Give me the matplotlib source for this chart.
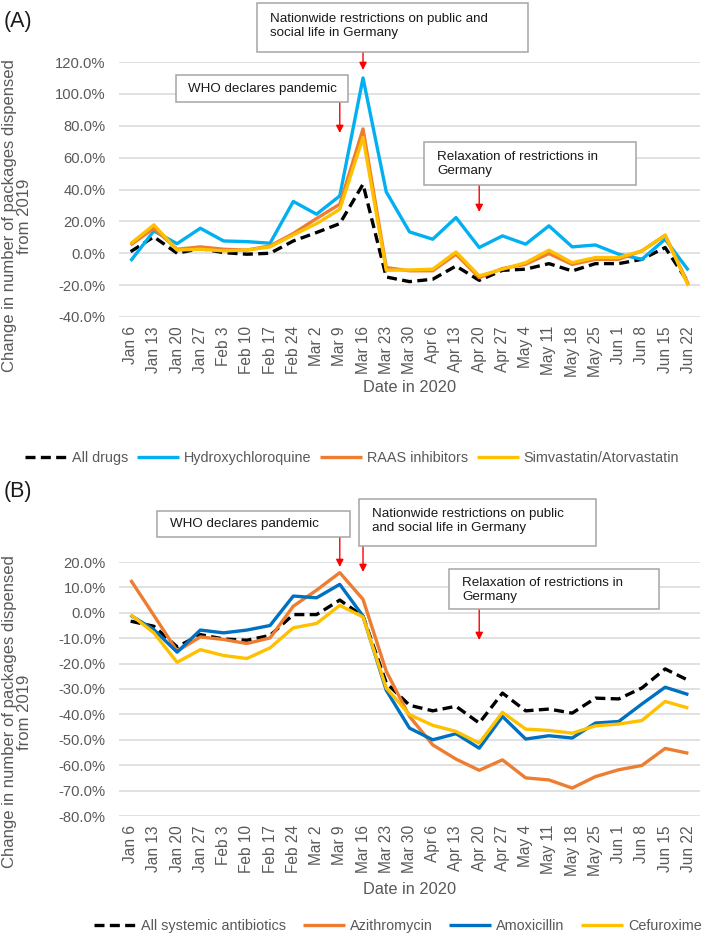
import matplotlib
matplotlib.use("Agg")
import matplotlib.pyplot as plt
from matplotlib.patches import Rectangle
from matplotlib.ticker import FuncFormatter

plt.rcParams['font.family'] = ['Liberation Sans', 'DejaVu Sans']

dates = ["Jan 6", "Jan 13", "Jan 20", "Jan 27", "Feb 3", "Feb 10", "Feb 17", "Feb 24",
         "Mar 2", "Mar 9", "Mar 16", "Mar 23", "Mar 30", "Apr 6", "Apr 13", "Apr 20",
         "Apr 27", "May 4", "May 11", "May 18", "May 25", "Jun 1", "Jun 8", "Jun 15", "Jun 22"]

# Panel A (percent)
all_drugs = [1.0, 10.3, 0.0, 3.0, 0.4, -0.6, 0.0, 7.7, 13.0, 18.6, 43.3, -14.9, -17.8,
             -16.3, -8.0, -17.0, -10.7, -10.0, -6.5, -11.1, -6.5, -6.5, -3.8, 3.6, -18.4]
hydroxychloroquine = [-4.8, 14.0, 6.0, 15.7, 7.7, 7.3, 6.3, 32.5, 24.5, 36.0, 110.0, 38.5, 13.4,
                      8.8, 22.4, 3.6, 10.9, 5.7, 17.2, 4.0, 5.2, -0.6, -3.8, 8.8, -10.7]
raas = [5.2, 15.7, 2.5, 4.0, 2.5, 2.0, 4.6, 12.4, 21.8, 30.8, 78.0, -9.0, -11.0,
        -11.0, -0.6, -15.3, -9.6, -6.9, -0.2, -7.0, -3.8, -3.8, 1.5, 11.3, -19.5]
statins = [6.0, 17.8, 2.0, 2.5, 1.5, 2.0, 4.0, 11.5, 18.6, 27.6, 72.7, -10.7, -10.5,
           -10.0, 0.8, -14.2, -10.0, -5.9, 1.9, -5.9, -2.7, -2.7, 1.5, 11.3, -20.5]

# Panel B (percent)
all_antibiotics = [-3.3, -5.3, -13.4, -8.6, -10.3, -10.8, -8.9, -0.7, -0.7, 5.0, -1.3, -27.6, -36.4,
                   -38.6, -36.8, -43.4, -31.6, -38.6, -37.9, -39.5, -33.6, -33.9, -29.6, -22.1, -26.6]
azithromycin = [12.9, -1.0, -15.1, -9.5, -10.5, -12.1, -9.9, 2.6, 8.9, 15.8, 5.3, -23.0, -40.8,
                -52.0, -57.6, -62.0, -57.9, -65.0, -65.8, -69.0, -64.5, -61.8, -60.1, -53.4, -55.3]
amoxicillin = [-1.0, -6.6, -15.5, -6.8, -7.9, -6.8, -5.0, 6.6, 5.9, 11.2, -1.3, -30.5, -45.4,
               -50.0, -47.6, -53.3, -40.8, -49.7, -48.4, -49.3, -43.4, -42.8, -35.9, -29.3, -32.2]
cefuroxime = [-0.7, -7.9, -19.5, -14.5, -16.8, -18.0, -13.8, -5.9, -4.2, 2.9, -1.6, -29.6, -40.1,
              -44.3, -46.7, -51.3, -39.2, -45.8, -46.3, -47.4, -44.5, -43.8, -42.4, -34.9, -37.5]

labels_A = ["All drugs", "Hydroxychloroquine", "RAAS inhibitors", "Simvastatin/Atorvastatin"]
labels_B = ["All systemic antibiotics", "Azithromycin", "Amoxicillin", "Cefuroxime"]

W, H = 709, 936
fig = plt.figure(figsize=(W / 100, H / 100), dpi=100)

def fx(px):
    return px / W

def fy(py):
    return 1 - py / H

GRAY = "#595959"
GRID = "#D9D9D9"

def make_axes(top, bottom):
    ax = fig.add_axes([fx(119), fy(bottom), fx(700) - fx(119), fy(top) - fy(bottom)])
    for s in ax.spines.values():
        s.set_visible(False)
    ax.yaxis.grid(True, color=GRID, lw=1.1)
    ax.set_axisbelow(True)
    ax.tick_params(length=0, colors=GRAY)
    ax.tick_params(axis='y', pad=9.5, labelsize=10.6)
    ax.tick_params(axis='x', pad=6.5, labelsize=11.2)
    ax.set_xlim(-0.5, len(dates) - 0.5)
    ax.set_xticks(range(len(dates)))
    ax.set_xticklabels(dates, rotation=90)
    ax.yaxis.set_major_formatter(FuncFormatter(lambda v, p: f"{v:.1f}%"))
    return ax

x = list(range(len(dates)))

def draw(ax, series, colors, labels):
    lines = []
    for i, (s, c, lab) in enumerate(zip(series, colors, labels)):
        if i == 0:
            ln, = ax.plot(x, s, color=c, lw=2.4, label=lab, dashes=(3, 1.6),
                          solid_joinstyle='round', zorder=3)
        else:
            ln, = ax.plot(x, s, color=c, lw=2.4, label=lab, solid_joinstyle='round',
                          solid_capstyle='butt', zorder=3 + i)
        lines.append(ln)
    return lines

def box(x0, y0, x1, y1, text, tx, ty):
    r = Rectangle((fx(x0), fy(y1)), fx(x1) - fx(x0), fy(y0) - fy(y1),
                  transform=fig.transFigure, facecolor="white", edgecolor="#A6A6A6",
                  lw=1.1, zorder=10)
    fig.add_artist(r)
    fig.text(fx(tx), fy(ty), text, ha="left", va="center", fontsize=9.6,
             color="#1a1a1a", linespacing=1.15, zorder=11)

def arrow(ax, idx, y0, y1):
    ax.annotate("", xy=(idx, y1), xytext=(idx, y0), xycoords='data',
                annotation_clip=False,
                arrowprops=dict(arrowstyle='-|>', color='#FF0000', lw=1.0,
                                mutation_scale=11, shrinkA=0, shrinkB=0), zorder=12)

# ---------- Panel A ----------
axA = make_axes(62, 317)
axA.set_ylim(-40, 120)
axA.set_yticks(range(-40, 121, 20))
linesA = draw(axA, [all_drugs, hydroxychloroquine, raas, statins],
              ["black", "#00B0F0", "#ED7D31", "#FFC000"], labels_A)

def ya(px):
    return 120 - (px - 62) / 255 * 160

box(257, 3, 528, 52, "Nationwide restrictions on public and\nsocial life in Germany", 270, 26)
box(176, 75, 348, 102, "WHO declares pandemic", 188, 89)
box(424, 142, 636, 185, "Relaxation of restrictions in\nGermany", 437, 164)
arrow(axA, 9, ya(102), ya(133))
arrow(axA, 10, ya(52), ya(70))
arrow(axA, 15, ya(185), ya(212))

fig.text(fx(410), fy(387), "Date in 2020", ha="center", va="center", fontsize=11.8, color=GRAY)
fig.text(fx(17), fy(216), "Change in number of packages dispensed\nfrom 2019", ha="center",
         va="center", rotation=90, fontsize=12.0, color=GRAY, linespacing=1.0)
fig.text(fx(4), fy(21), "(A)", ha="left", va="center", fontsize=15.5, color="#1a1a1a")

fig.legend(handles=linesA, labels=labels_A, loc="center", ncol=4,
           bbox_to_anchor=(fx(352), fy(458)), frameon=False, fontsize=10.4,
           handlelength=2.9, handletextpad=0.35, columnspacing=0.6, labelcolor=GRAY)

# ---------- Panel B ----------
axB = make_axes(562, 816)
axB.set_ylim(-80, 20)
axB.set_yticks(range(-80, 21, 10))
linesB = draw(axB, [all_antibiotics, azithromycin, amoxicillin, cefuroxime],
              ["black", "#ED7D31", "#0070C0", "#FFC000"], labels_B)

def yb(px):
    return 20 - (px - 562) / 254 * 100

box(157, 511, 350, 537, "WHO declares pandemic", 170, 524)
box(359, 499, 596, 546, "Nationwide restrictions on public\nand social life in Germany", 372, 521)
box(449, 569, 659, 609, "Relaxation of restrictions in\nGermany", 462, 590)
arrow(axB, 9, yb(537), yb(567))
arrow(axB, 10, yb(546), yb(572))
arrow(axB, 15, yb(609), yb(640))

fig.text(fx(410), fy(889), "Date in 2020", ha="center", va="center", fontsize=11.8, color=GRAY)
fig.text(fx(17), fy(712), "Change in number of packages dispensed\nfrom 2019", ha="center",
         va="center", rotation=90, fontsize=12.0, color=GRAY, linespacing=1.0)
fig.text(fx(4), fy(491), "(B)", ha="left", va="center", fontsize=15.5, color="#1a1a1a")

fig.legend(handles=linesB, labels=labels_B, loc="center", ncol=4,
           bbox_to_anchor=(fx(398), fy(926)), frameon=False, fontsize=10.4,
           handlelength=2.9, handletextpad=0.35, columnspacing=1.15, labelcolor=GRAY)

fig.savefig("out.png", dpi=100)
